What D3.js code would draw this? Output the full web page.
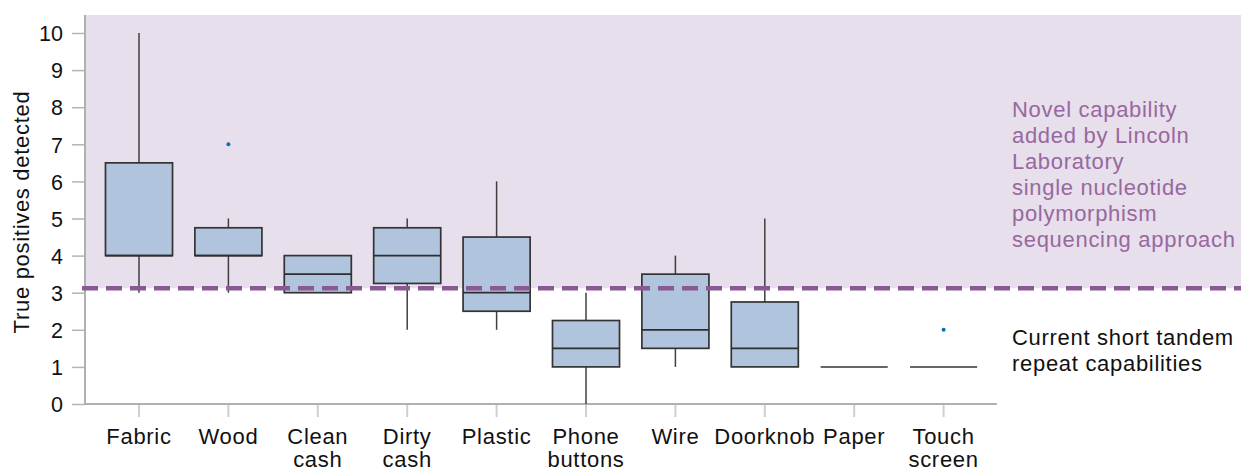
<!DOCTYPE html>
<html>
<head>
<meta charset="utf-8">
<script src="https://cdn.jsdelivr.net/npm/d3@7"></script>
<style>
  html, body { margin: 0; padding: 0; background: #ffffff; }
  svg { display: block; }
  text { font-family: "Liberation Sans", Arial, Helvetica, sans-serif; }
</style>
</head>
<body>
<svg id="chart" width="1241" height="470"></svg>
<script>
// ---- Data ----
const categories = ["Fabric", "Wood", "Clean cash", "Dirty cash", "Plastic", "Phone buttons", "Wire", "Doorknob", "Paper", "Touch screen"];
const whiskerLow  = [3, 3, 3,    2,    2,   0,    1,   1,    1, 1];
const q1          = [4, 4, 3,    3.25, 2.5, 1,    1.5, 1,    1, 1];
const median      = [4, 4, 3.5,  4,    3,   1.5,  2,   1.5,  1, 1];
const q3          = [6.5, 4.75, 4, 4.75, 4.5, 2.25, 3.5, 2.75, 1, 1];
const whiskerHigh = [10, 5, 4,   5,    6,   3,    4,   5,    1, 1];
const outlierCategories = ["Wood", "Touch screen"];
const outlierValues = [7, 2];
const yTicks = [0, 1, 2, 3, 4, 5, 6, 7, 8, 9, 10];
const threshold = 3.12;
const novelText = ["Novel capability", "added by Lincoln", "Laboratory", "single nucleotide", "polymorphism", "sequencing approach"];
const currentText = ["Current short tandem", "repeat capabilities"];
const yTitle = "True positives detected";

// ---- Layout ----
const svg = d3.select("#chart");
const W = 1241, H = 470;
const axisX = 85, plotTop = 15, axisY = 404, axisRight = 997;
const FS = "22px", LS = "0.7px";

const y = d3.scaleLinear().domain([0, 10]).range([404, 33]);
const x = d3.scaleBand().domain(categories).range([94.3, 988.3]).padding(0);
const boxW = x.bandwidth() * 0.75;
const cx = c => x(c) + x.bandwidth() / 2;

// purple region
svg.append("rect")
  .attr("x", axisX).attr("y", plotTop)
  .attr("width", W - axisX).attr("height", y(threshold) - plotTop)
  .attr("fill", "#e7dfeb");

// y axis
const yAxis = d3.axisLeft(y).tickValues(yTicks).tickSize(13).tickPadding(9).tickFormat(d3.format("d"));
const gy = svg.append("g").attr("transform", `translate(${axisX},0)`).call(yAxis);
gy.select(".domain").remove();
gy.selectAll(".tick line").attr("stroke", "#b4b4b4").attr("stroke-width", 1.5);
gy.selectAll(".tick text").attr("fill", "#111").style("font-size", "21.5px")
  .style("font-family", "'Liberation Sans', Arial, sans-serif").attr("dy", "0.36em");

// x axis
const xAxis = d3.axisBottom(x).tickSize(13).tickPadding(10).tickFormat("");
const gx = svg.append("g").attr("transform", `translate(0,${axisY})`).call(xAxis);
gx.select(".domain").remove();
gx.selectAll(".tick line").attr("stroke", "#cfcfcf").attr("stroke-width", 2);

// x labels (multi-line)
categories.forEach(c => {
  const words = c.split(" ");
  const t = svg.append("text")
    .attr("text-anchor", "middle")
    .attr("fill", "#111")
    .style("font-size", FS)
    .style("letter-spacing", LS);
  words.forEach((w, i) => {
    t.append("tspan").attr("x", cx(c)).attr("y", 444 + i * 22.5).text(w);
  });
});

// axis lines
svg.append("line").attr("x1", axisX).attr("x2", axisX).attr("y1", plotTop).attr("y2", axisY + 1)
  .attr("stroke", "#b0b0b0").attr("stroke-width", 2);
svg.append("line").attr("x1", axisX).attr("x2", axisRight).attr("y1", axisY).attr("y2", axisY)
  .attr("stroke", "#b0b0b0").attr("stroke-width", 2);

// y title
svg.append("text")
  .attr("transform", `translate(29,${212}) rotate(-90)`)
  .attr("text-anchor", "middle")
  .attr("fill", "#111")
  .style("font-size", FS)
  .style("letter-spacing", LS)
  .text(yTitle);

// boxes
const g = svg.append("g");
categories.forEach((c, i) => {
  const xc = cx(c);
  if (whiskerHigh[i] > q3[i]) {
    g.append("line").attr("x1", xc).attr("x2", xc).attr("y1", y(q3[i])).attr("y2", y(whiskerHigh[i]))
      .attr("stroke", "#3f3f3f").attr("stroke-width", 1.5);
  }
  if (whiskerLow[i] < q1[i]) {
    g.append("line").attr("x1", xc).attr("x2", xc).attr("y1", y(q1[i])).attr("y2", y(whiskerLow[i]))
      .attr("stroke", "#3f3f3f").attr("stroke-width", 1.5);
  }
  if (q3[i] > q1[i]) {
    g.append("rect")
      .attr("x", xc - boxW / 2).attr("y", y(q3[i]))
      .attr("width", boxW).attr("height", y(q1[i]) - y(q3[i]))
      .attr("fill", "#b0c4de").attr("stroke", "#333").attr("stroke-width", 1.7);
  }
  g.append("line")
    .attr("x1", xc - boxW / 2).attr("x2", xc + boxW / 2)
    .attr("y1", y(median[i])).attr("y2", y(median[i]))
    .attr("stroke", q3[i] > q1[i] ? "#2e2e2e" : "#666")
    .attr("stroke-width", q3[i] > q1[i] ? 1.7 : 2);
});

// outliers
outlierCategories.forEach((c, i) => {
  svg.append("circle").attr("cx", cx(c)).attr("cy", y(outlierValues[i])).attr("r", 2)
    .attr("fill", "#0a6fb3");
});

// threshold dashed line
svg.append("line")
  .attr("x1", 82).attr("x2", W).attr("y1", y(threshold)).attr("y2", y(threshold))
  .attr("stroke", "#8a5993").attr("stroke-width", 4.5)
  .attr("stroke-dasharray", "16,8");

// annotations
const nt = svg.append("text").attr("fill", "#98689f").style("font-size", FS).style("letter-spacing", LS);
novelText.forEach((s, i) => nt.append("tspan").attr("x", 1012).attr("y", 117 + i * 26).text(s));
const ct = svg.append("text").attr("fill", "#111").style("font-size", FS).style("letter-spacing", LS);
currentText.forEach((s, i) => ct.append("tspan").attr("x", 1012).attr("y", 345 + i * 26).text(s));
</script>
</body>
</html>
